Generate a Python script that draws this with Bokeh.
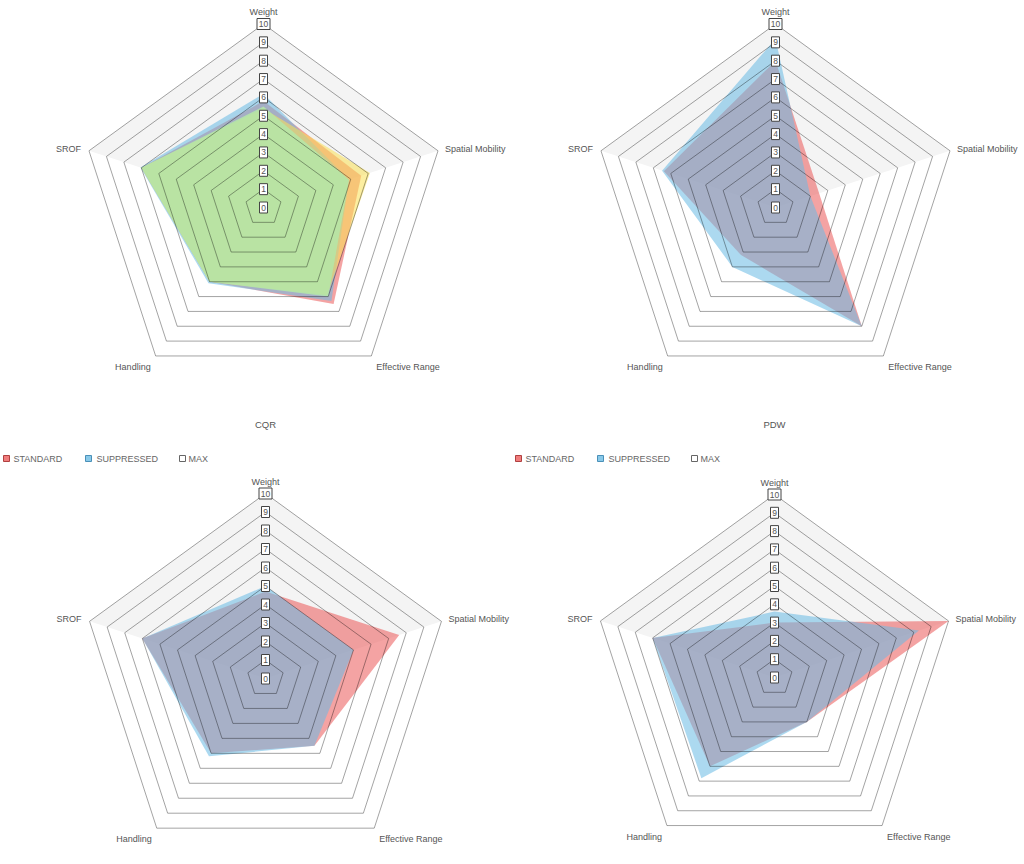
import math
from bokeh.plotting import figure
from bokeh.layouts import column, row
from bokeh.models import Range1d
from bokeh.embed import file_html
from bokeh.resources import INLINE
from bokeh.core.properties import value

# ---------------- data ----------------
axis_names = ["Weight", "Spatial Mobility", "Effective Range", "Handling", "SROF"]
tick_labels = ["0", "1", "2", "3", "4", "5", "6", "7", "8", "9", "10"]
legend_names = ["STANDARD", "SUPPRESSED", "MAX"]

# top-left chart (title and legend outside the visible area)
tl_red = [5.8, 5.6, 6.5, 5.0, 7.0]
tl_blue = [6.2, 4.9, 6.3, 5.1, 7.05]
tl_yellow = [5.4, 6.1, 5.9, 5.0, 7.0]
tl_green = [5.5, 4.9, 6.0, 5.0, 7.0]

# top-right chart
tr_standard = [8.0, 2.5, 8.0, 3.2, 6.4]
tr_suppressed = [9.2, 2.0, 8.0, 4.0, 6.5]

# CQR
cqr_standard = [4.7, 7.6, 4.5, 5.0, 7.0]
cqr_suppressed = [5.0, 5.0, 4.5, 5.2, 7.0]

# PDW
pdw_standard = [3.0, 10.0, 3.0, 6.0, 7.0]
pdw_suppressed = [3.6, 8.3, 3.0, 6.8, 7.0]

MAX_VALUE = 10

# ---------------- style ----------------
FONT = "Liberation Sans"
RED = "#ec5b5b"
BLUE = "#6bbbe4"
YELLOW = "#fae156"
GREEN = "#b4e8a8"
ALPHA = 0.56
LABEL_COL = "#555555"

ANGLES = [math.radians(90 - 72 * i) for i in range(5)]


def pts(vals, unit):
    xs = [v * unit * math.cos(a) for v, a in zip(vals, ANGLES)]
    ys = [v * unit * math.sin(a) for v, a in zip(vals, ANGLES)]
    return xs, ys


def radar(width, height, cx, cy, R, series, title=None, legend=False):
    p = figure(width=width, height=height,
               x_range=Range1d(-cx, width - cx), y_range=Range1d(-(height - cy), cy),
               output_backend="svg", toolbar_location=None, min_border=0,
               x_axis_location=None, y_axis_location=None)
    p.grid.visible = False
    p.outline_line_color = None
    p.background_fill_color = "white"
    p.border_fill_color = "white"
    unit = R / MAX_VALUE

    # light upper background
    ox, oy = pts([MAX_VALUE] * 5, unit)
    p.patch([0, ox[4], ox[0], ox[1]], [0, oy[4], oy[0], oy[1]],
            fill_color="#f4f4f4", line_color=None)

    # series
    for vals, color, alpha in series:
        sx, sy = pts(vals, unit)
        p.patch(sx, sy, fill_color=color, fill_alpha=alpha, line_color=None)

    # rings (semi-transparent so they darken inside the filled areas)
    for k in range(1, MAX_VALUE + 1):
        rx, ry = pts([k] * 5, unit)
        p.patch(rx + [rx[0]], ry + [ry[0]], fill_color=None, line_color="black",
                line_alpha=0.36, line_width=1)

    # tick boxes
    for i, t in enumerate(tick_labels):
        w = 7 + 5 * (len(t) - 1)
        p.rect([0], [i * unit], width=w + 1, height=11, width_units="screen",
               height_units="screen", fill_color="white", line_color="#444444", line_width=1)
    p.text([0] * len(tick_labels), [i * unit for i in range(len(tick_labels))], text=tick_labels,
           text_font=value(FONT), text_font_size=value("8.5px"), text_color="#555555",
           text_align="center", text_baseline="middle")

    # axis labels
    lx = [ox[0], ox[1] + 7, ox[2] + 5, ox[3] - 5, ox[4] - 8]
    ly = [oy[0] + 7, oy[1] + 2, oy[2] - 11, oy[3] - 11, oy[4] + 2]
    al = ["center", "left", "left", "right", "right"]
    bl = ["bottom", "middle", "middle", "middle", "middle"]
    for x, y, t, a, b in zip(lx, ly, axis_names, al, bl):
        p.text([x], [y], text=[t], text_font=value(FONT), text_font_size=value("9px"),
               text_color=LABEL_COL, text_align=a, text_baseline=b)

    if title:
        p.text([0], [cy - 24], text=[title], text_font=value(FONT), text_font_size=value("9.5px"),
               text_color=LABEL_COL, text_align="center", text_baseline="middle")
    if legend:
        ly0 = cy - 58
        sq_x = [6, 88, 182]
        tx_x = [13, 96, 188]
        fills = [RED, BLUE, "white"]
        lines = ["#b04040", "#4a90b8", "#666666"]
        for sxp, txp, name, fc, lc in zip(sq_x, tx_x, legend_names, fills, lines):
            p.rect([sxp - cx], [ly0], width=6, height=6, width_units="screen", height_units="screen",
                   fill_color=fc, fill_alpha=0.8 if fc != "white" else 1.0, line_color=lc)
            p.text([txp - cx], [ly0], text=[name], text_font=value(FONT), text_font_size=value("9px"),
                   text_color="#666666", text_align="left", text_baseline="middle")
    return p


p1 = radar(512, 400, 263, 207, 183.5,
           [(tl_red, RED, ALPHA), (tl_blue, BLUE, ALPHA), (tl_yellow, YELLOW, ALPHA), (tl_green, GREEN, 0.85)])
p2 = radar(512, 400, 263, 207, 183.5,
           [(tr_standard, RED, ALPHA), (tr_suppressed, BLUE, ALPHA)])
p3 = radar(512, 464, 265, 278, 185,
           [(cqr_standard, RED, ALPHA), (cqr_suppressed, BLUE, ALPHA)], title="CQR", legend=True)
p4 = radar(512, 464, 262, 277, 183,
           [(pdw_standard, RED, ALPHA), (pdw_suppressed, BLUE, ALPHA)], title="PDW", legend=True)

layout = column(row(p1, p2), row(p3, p4))
open("out.html", "w").write(file_html(layout, INLINE))
